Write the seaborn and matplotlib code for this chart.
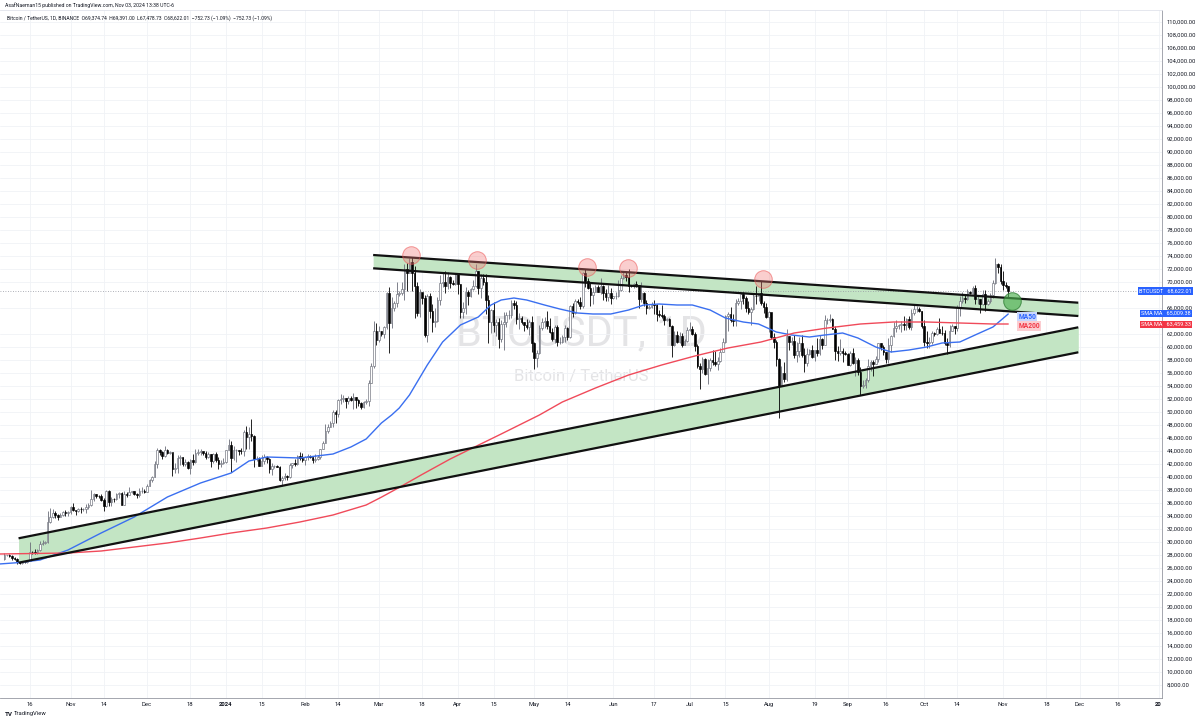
import numpy as np
import pandas as pd
import matplotlib.pyplot as plt
import matplotlib.dates as mdates
import matplotlib.transforms as mtransforms
import seaborn as sns

# ---- daily BTCUSDT candles, values in thousands of USD, from 2023-10-06 ----
start_day = '2023-10-06'
first_open = 27.42
close_k = [
    # Oct 2023 (6..31)
    27.93, 27.95, 27.92, 27.59, 27.39, 26.87, 26.76, 26.86, 26.85, 27.15, 28.52, 28.42, 28.33,
    28.72, 29.67, 29.91, 29.99, 33.09, 33.90, 34.50, 34.16, 33.91, 34.09, 34.54, 34.50, 34.64,
    # Nov 2023
    35.42, 34.94, 34.73, 35.08, 35.03, 35.04, 35.42, 35.62, 36.69, 37.31, 37.13, 37.06, 36.49, 35.55, 37.88,
    36.16, 36.59, 36.58, 37.38, 37.47, 35.76, 37.42, 37.29, 37.72, 37.80, 37.46, 37.25, 37.83, 37.86, 37.71,
    # Dec 2023
    38.69, 39.47, 39.98, 41.99, 44.08, 43.77, 43.29, 44.17, 43.72, 43.79, 41.24, 41.45, 42.89, 43.02, 41.94, 42.26,
    41.37, 42.66, 42.27, 43.65, 43.86, 43.99, 43.73, 43.01, 43.58, 42.51, 43.47, 42.58, 42.07, 42.14, 42.28,
    # Jan 2024
    44.18, 44.95, 42.85, 44.15, 44.16, 43.97, 43.93, 46.97, 46.11, 46.63, 46.34, 42.78, 42.84, 41.73, 42.50, 43.15,
    42.74, 41.26, 41.62, 41.66, 41.58, 39.56, 39.89, 40.08, 39.93, 41.82, 42.12, 42.03, 43.30, 42.95, 42.58,
    # Feb 2024
    43.08, 43.19, 43.00, 42.58, 42.70, 43.09, 44.34, 45.30, 47.13, 47.75, 48.29, 49.96, 49.70, 51.82, 51.94,
    52.14, 51.65, 52.14, 51.78, 52.28, 51.85, 51.32, 50.74, 51.57, 51.73, 54.48, 57.04, 62.43, 61.13,
    # Mar 2024
    62.39, 62.03, 63.13, 68.25, 63.72, 66.07, 66.80, 68.12, 68.31, 68.96, 72.07, 71.45, 73.07, 71.39, 69.40, 65.30,
    68.39, 67.55, 61.91, 67.91, 65.49, 63.78, 64.04, 67.21, 69.92, 69.99, 69.43, 70.74, 69.87, 69.62, 71.28,
    # Apr 2024
    69.65, 65.46, 65.96, 68.49, 67.82, 68.90, 69.36, 71.62, 69.14, 70.59, 70.06, 67.19, 63.92, 65.74, 63.42,
    63.79, 61.28, 63.47, 63.82, 64.94, 64.94, 66.84, 66.41, 64.28, 64.50, 63.77, 63.46, 63.12, 63.84, 60.64,
    # May 2024
    58.25, 59.12, 62.89, 63.89, 64.03, 63.16, 62.33, 61.19, 63.05, 60.79, 60.82, 61.48, 62.94, 61.58, 66.27, 65.23,
    67.05, 66.94, 66.28, 71.45, 70.14, 69.12, 67.93, 68.53, 69.29, 68.51, 69.39, 68.37, 67.64, 68.36, 67.53,
    # Jun 2024
    67.77, 67.82, 68.80, 70.57, 71.08, 70.79, 69.36, 69.31, 69.65, 69.51, 67.32, 68.24, 66.75, 66.01, 66.19,
    66.64, 66.49, 65.15, 64.96, 64.83, 64.10, 64.25, 63.18, 60.28, 61.81, 60.84, 61.68, 60.32, 60.89, 62.68,
    # Jul 2024
    62.77, 62.02, 60.21, 57.05, 56.64, 58.23, 55.85, 56.70, 58.05, 57.72, 57.34, 57.90, 59.20, 60.79, 64.72, 65.04,
    64.09, 63.97, 66.71, 67.15, 68.17, 67.55, 65.93, 65.37, 65.78, 67.90, 67.81, 68.24, 66.78, 66.19, 64.62,
    # Aug 2024
    65.35, 61.50, 60.70, 58.16, 54.02, 56.03, 55.13, 61.69, 60.84, 60.92, 58.71, 59.35, 60.60, 58.74, 57.56, 58.87,
    59.49, 58.43, 59.49, 59.01, 61.16, 60.38, 64.10, 64.18, 64.25, 62.83, 59.42, 59.03, 59.37, 59.12, 58.97,
    # Sep 2024
    57.30, 59.13, 57.49, 57.97, 56.16, 53.95, 54.16, 54.88, 57.02, 57.65, 57.34, 58.13, 60.57, 60.01, 59.18,
    58.21, 60.31, 61.76, 62.95, 63.20, 63.35, 63.58, 63.34, 64.26, 63.15, 65.18, 65.79, 65.89, 65.60, 63.30,
    # Oct 2024
    60.80, 60.65, 60.75, 62.08, 62.06, 62.82, 62.22, 62.13, 60.58, 60.27, 62.44, 63.19, 62.85, 66.08, 67.04, 67.61,
    67.40, 68.40, 68.36, 69.00, 67.37, 67.39, 66.65, 68.16, 66.64, 67.04, 67.94, 69.91, 72.72, 72.34, 70.22,
    # Nov 2024 (1..3)
    69.48, 69.37, 68.62,
]
high_k = [
    28.29, 28.05, 28.11, 27.99, 27.73, 27.48, 26.94, 27.11, 26.97, 27.29, 30.00, 28.61, 28.98,
    28.93, 30.21, 30.34, 30.20, 34.74, 35.20, 35.00, 34.84, 34.24, 34.48, 34.75, 34.86, 34.72,
    35.58, 35.98, 34.94, 35.26, 35.38, 35.27, 35.89, 35.98, 37.97, 37.53, 37.41, 37.23, 37.41, 36.75, 37.98,
    37.93, 36.85, 36.80, 37.52, 37.76, 37.65, 37.89, 37.66, 38.43, 37.90, 37.82, 37.59, 38.38, 38.43, 38.15,
    38.99, 39.69, 40.19, 42.41, 44.49, 44.30, 44.05, 44.70, 44.37, 44.03, 43.75, 42.10, 43.43, 43.41, 43.09, 42.70,
    42.43, 42.76, 43.49, 44.28, 44.24, 44.37, 43.81, 43.95, 43.80, 43.60, 43.68, 43.79, 43.12, 42.61, 42.90,
    44.19, 45.90, 45.50, 44.73, 44.34, 44.23, 44.50, 47.25, 47.89, 47.70, 48.97, 46.50, 43.26, 43.08, 43.40, 43.58,
    43.20, 42.93, 42.20, 41.87, 41.88, 41.70, 40.13, 40.56, 40.28, 42.20, 42.20, 42.84, 43.32, 43.88, 43.74,
    43.28, 43.49, 43.38, 43.12, 43.53, 43.40, 44.37, 45.60, 48.20, 48.17, 48.58, 50.33, 50.37, 52.04, 52.82,
    52.57, 52.15, 52.43, 52.49, 52.99, 52.37, 52.07, 51.56, 51.70, 51.95, 54.91, 57.59, 63.97, 63.68,
    63.19, 62.43, 63.23, 68.50, 69.20, 67.63, 67.00, 69.99, 68.59, 69.99, 72.80, 72.97, 73.65, 73.78, 72.42, 70.00,
    68.92, 68.13, 68.06, 68.14, 68.24, 66.65, 65.97, 67.62, 71.15, 71.56, 71.73, 71.55, 70.91, 70.33, 71.37,
    71.29, 69.67, 66.91, 69.29, 68.71, 69.00, 70.28, 72.80, 71.76, 71.17, 71.26, 71.23, 67.93, 65.84, 66.87,
    64.36, 64.48, 64.12, 65.45, 65.39, 65.70, 67.23, 67.21, 67.08, 65.30, 64.79, 63.92, 64.36, 64.23, 64.73,
    60.78, 59.60, 63.32, 64.49, 64.65, 65.49, 64.41, 62.99, 63.46, 63.46, 61.48, 61.82, 63.45, 63.10, 66.44, 66.70,
    67.45, 67.40, 67.70, 71.52, 71.98, 70.62, 70.04, 69.22, 69.57, 69.52, 70.61, 69.59, 68.89, 69.51, 69.04,
    67.86, 68.44, 70.29, 71.06, 71.76, 71.63, 72.00, 69.56, 69.85, 70.15, 69.57, 69.99, 68.45, 67.29, 66.42,
    66.99, 67.19, 66.58, 65.73, 66.47, 65.07, 64.53, 64.52, 63.37, 62.42, 62.48, 62.37, 62.17, 61.20, 63.00,
    63.78, 63.28, 62.27, 60.48, 57.50, 58.48, 58.24, 58.13, 58.29, 59.47, 59.40, 58.51, 59.82, 61.42, 64.90, 65.38,
    66.13, 65.12, 67.39, 67.61, 68.37, 68.48, 67.81, 67.10, 66.16, 68.20, 69.40, 68.31, 70.08, 67.00, 66.84,
    65.59, 65.03, 62.20, 61.12, 58.30, 57.04, 57.72, 62.75, 61.74, 61.47, 61.86, 60.72, 61.58, 61.80, 59.85, 59.81,
    59.64, 60.26, 59.60, 61.40, 61.82, 61.42, 64.96, 64.52, 65.00, 64.48, 63.21, 60.23, 61.18, 59.85, 59.46,
    59.06, 59.40, 59.81, 58.52, 58.32, 56.99, 54.85, 55.30, 58.09, 58.04, 57.99, 58.60, 60.67, 60.65, 60.38,
    59.21, 61.32, 61.79, 63.87, 64.13, 63.56, 64.00, 64.75, 64.48, 64.82, 65.84, 66.50, 66.26, 66.08, 65.55,
    64.13, 62.39, 61.47, 62.48, 62.37, 63.00, 64.48, 63.20, 62.54, 61.32, 63.42, 63.48, 63.28, 66.50, 67.88, 68.42,
    67.94, 68.97, 68.69, 69.40, 69.50, 67.84, 67.45, 68.80, 68.78, 67.42, 68.35, 70.27, 73.62, 72.96, 72.70,
    71.63, 69.94, 69.39,
]
low_k = [
    27.16, 27.84, 27.72, 27.28, 27.30, 26.56, 26.54, 26.69, 26.81, 26.81, 27.11, 28.11, 28.14,
    28.17, 28.59, 29.49, 29.70, 29.88, 32.85, 33.70, 33.75, 33.39, 33.83, 34.05, 34.06, 34.05,
    34.32, 34.70, 34.10, 34.58, 34.52, 34.75, 34.51, 35.11, 35.53, 36.33, 36.73, 36.72, 36.33, 34.80, 35.36,
    35.60, 35.51, 36.16, 36.40, 36.70, 35.63, 35.67, 36.88, 37.25, 37.61, 37.16, 36.75, 36.87, 37.58, 37.50,
    37.62, 38.65, 39.29, 39.96, 41.42, 43.33, 42.82, 43.08, 43.58, 43.56, 40.22, 40.68, 40.56, 41.82, 41.67, 41.69,
    41.25, 40.52, 41.79, 42.18, 43.40, 43.41, 43.31, 42.76, 42.90, 41.52, 42.10, 42.31, 41.30, 41.52, 41.97,
    42.19, 44.15, 40.75, 42.63, 42.26, 43.41, 43.60, 43.18, 44.30, 44.35, 45.60, 41.50, 42.44, 41.72, 41.72, 42.05,
    42.20, 40.68, 40.28, 41.45, 41.50, 39.45, 38.56, 39.48, 39.54, 39.83, 41.39, 41.62, 41.80, 42.69, 42.28,
    41.88, 42.57, 42.88, 42.22, 42.26, 42.57, 42.79, 44.33, 45.24, 46.80, 47.70, 47.70, 48.30, 49.25, 51.30,
    51.57, 50.63, 51.23, 51.68, 50.52, 50.63, 50.94, 50.52, 50.58, 51.28, 50.90, 54.45, 56.70, 60.36,
    60.75, 61.71, 61.32, 62.80, 59.01, 62.85, 65.57, 66.15, 67.90, 68.04, 67.19, 68.60, 71.33, 68.56, 64.50, 64.78,
    64.57, 66.60, 61.56, 60.78, 64.53, 62.26, 63.04, 63.79, 66.39, 69.28, 68.38, 68.94, 69.08, 69.51, 69.56,
    68.10, 64.50, 64.49, 65.05, 66.50, 67.75, 68.77, 69.25, 68.21, 67.52, 69.57, 65.09, 60.66, 62.13, 62.30,
    61.62, 59.77, 60.82, 59.60, 63.09, 64.24, 64.50, 65.84, 63.60, 62.79, 63.49, 62.41, 62.80, 61.79, 59.19,
    56.55, 56.94, 58.85, 62.59, 62.88, 62.70, 62.18, 60.89, 60.65, 60.19, 60.49, 60.63, 60.76, 61.12, 61.33, 64.60,
    65.11, 66.60, 65.86, 66.06, 69.16, 68.93, 66.31, 66.62, 68.50, 68.48, 68.23, 67.28, 67.14, 67.14, 66.67,
    67.38, 67.31, 67.62, 68.55, 70.39, 70.12, 68.50, 69.21, 69.14, 69.23, 66.05, 66.90, 66.30, 65.08, 65.89,
    66.06, 65.10, 64.06, 64.69, 64.51, 63.38, 63.94, 63.18, 58.40, 60.23, 60.62, 60.61, 60.05, 60.32, 60.71,
    62.50, 61.85, 59.38, 56.77, 53.49, 56.02, 55.72, 54.26, 56.30, 57.16, 57.05, 56.52, 57.74, 59.21, 60.63, 62.43,
    63.85, 63.24, 63.30, 66.44, 65.78, 66.57, 65.44, 65.10, 63.45, 65.75, 66.68, 67.06, 66.50, 65.30, 64.53,
    62.25, 61.20, 59.85, 57.12, 49.00, 53.97, 54.56, 54.73, 59.57, 60.27, 58.29, 57.63, 58.44, 58.43, 56.08, 57.12,
    58.79, 58.38, 57.86, 58.59, 58.78, 59.72, 60.34, 63.57, 63.80, 62.80, 58.03, 57.86, 58.75, 57.70, 58.73,
    57.20, 57.12, 57.41, 55.61, 55.67, 52.55, 53.74, 53.65, 54.59, 56.38, 55.55, 57.33, 57.63, 59.56, 58.70,
    57.49, 57.61, 59.17, 61.58, 62.35, 62.76, 62.36, 62.59, 62.68, 62.70, 62.67, 64.85, 65.42, 65.42, 62.85,
    60.16, 59.83, 59.83, 60.46, 61.68, 61.82, 62.12, 61.82, 60.30, 58.90, 60.05, 62.41, 62.04, 62.42, 64.81, 66.75,
    66.70, 67.18, 68.10, 68.11, 66.57, 66.58, 65.26, 66.50, 65.53, 66.53, 66.81, 67.50, 69.73, 71.44, 69.68,
    68.78, 69.05, 67.48,
]

# ---- moving averages ----
ma50_dates = ['2023-10-04', '2023-10-11', '2023-10-20', '2023-10-31', '2023-11-13', '2023-11-26',
              '2023-12-09', '2023-12-22', '2024-01-03', '2024-01-10', '2024-01-17', '2024-01-30',
              '2024-02-12', '2024-02-19', '2024-02-25', '2024-03-02', '2024-03-06', '2024-03-09',
              '2024-03-13', '2024-03-20', '2024-03-26', '2024-04-02', '2024-04-09', '2024-04-14',
              '2024-04-18', '2024-04-23', '2024-04-28', '2024-05-05', '2024-05-11', '2024-05-18',
              '2024-05-24', '2024-05-31', '2024-06-07', '2024-06-13', '2024-06-19', '2024-06-26',
              '2024-07-02', '2024-07-09', '2024-07-15', '2024-07-22', '2024-07-28', '2024-08-04',
              '2024-08-10', '2024-08-17', '2024-08-23', '2024-08-30', '2024-09-05', '2024-09-12',
              '2024-09-18', '2024-09-25', '2024-10-02', '2024-10-08', '2024-10-15', '2024-10-21',
              '2024-10-28', '2024-11-03']
ma50 = [26615, 26815, 27230, 28770, 31385, 33846, 36923, 39077, 40615, 42460, 43077, 42923,
        43538, 44615, 45846, 48308, 49538, 50615, 52615, 57230, 60770, 63385, 64615, 66462,
        67230, 67538, 67230, 66462, 65846, 65230, 65077, 65077, 65692, 66462, 66615, 66462,
        66462, 65692, 64462, 63846, 63538, 62308, 61846, 61538, 61846, 62154, 61385, 60000,
        59230, 59538, 60000, 60615, 60770, 61846, 63077, 65077]
ma200_dates = ['2023-10-04', '2023-10-31', '2023-11-13', '2023-11-26', '2023-12-09', '2023-12-22',
               '2024-01-03', '2024-01-17', '2024-01-30', '2024-02-12', '2024-02-25', '2024-03-02',
               '2024-03-09', '2024-03-18', '2024-03-29', '2024-04-08', '2024-04-18', '2024-05-03',
               '2024-05-12', '2024-05-25', '2024-06-07', '2024-06-20', '2024-07-03', '2024-07-16',
               '2024-07-29', '2024-08-11', '2024-08-24', '2024-09-06', '2024-09-19', '2024-10-02',
               '2024-10-15', '2024-10-28', '2024-11-03']
ma200 = [28154, 28308, 28615, 29230, 29846, 30615, 31385, 32154, 33077, 34154, 35692, 36900,
         38400, 40400, 42770, 44700, 46615, 49538, 51538, 53692, 55692, 57230, 58615, 59846,
         60770, 62154, 62923, 63538, 63846, 63846, 63692, 63538, 63538]

# ---- drawings: channels (start, end) and marked touches ----
upper_ch_dates = ['2024-02-27 18:00', '2024-11-30 12:00']
upper_ch_top = [74154, 66815]
upper_ch_bot = [72108, 64769]
lower_ch_dates = ['2023-10-11 14:00', '2024-11-30 12:00']
lower_ch_top = [30569, 63031]
lower_ch_bot = [26815, 59185]
touch_dates = ['2024-03-13 14:00', '2024-04-08 12:00', '2024-05-21 17:00', '2024-06-06 19:00', '2024-07-29 18:00']
touch_prices = [74154, 73385, 72308, 72154, 70462]
retest_date = ['2024-11-04 12:00']
retest_price = [67077]

last_price = 68622.01
sma50_last = 65009.38
sma200_last = 63459.33

tick_dates = ['2023-10-16', '2023-11-01', '2023-11-14', '2023-12-01', '2023-12-18', '2024-01-01',
              '2024-01-15', '2024-02-01', '2024-02-14', '2024-03-01', '2024-03-18', '2024-04-01',
              '2024-04-15', '2024-05-01', '2024-05-14', '2024-06-01', '2024-06-17', '2024-07-01',
              '2024-07-15', '2024-08-01', '2024-08-19', '2024-09-01', '2024-09-16', '2024-10-01',
              '2024-10-14', '2024-11-01', '2024-11-18', '2024-12-01', '2024-12-16', '2025-01-01']
tick_labels = ['16', 'Nov', '14', 'Dec', '18', '2024', '15', 'Feb', '14', 'Mar', '18', 'Apr', '15',
               'May', '14', 'Jun', '17', 'Jul', '15', 'Aug', '19', 'Sep', '16', 'Oct', '14', 'Nov',
               '18', 'Dec', '16', '20']

# ---- build candle table ----
df = pd.DataFrame({'close': np.array(close_k) * 1000,
                   'high': np.array(high_k) * 1000,
                   'low': np.array(low_k) * 1000})
df['open'] = np.r_[first_open, close_k[:-1]] * 1000
df['date'] = pd.date_range(start_day, periods=len(df), freq='D')
x = mdates.date2num(df['date'])
up = (df['close'] >= df['open']).values

sns.set_theme(style='white')
plt.rcParams['font.family'] = ['Roboto', 'DejaVu Sans']

fig = plt.figure(figsize=(12, 7.22), dpi=100)
ax = fig.add_axes([0, 24 / 722, 1162 / 1200, 688 / 722])

def dnum(d):
    return mdates.date2num(pd.to_datetime(d))

# channels
ax.fill_between(dnum(upper_ch_dates), upper_ch_bot, upper_ch_top, color='#c3e5c4', lw=0, zorder=1)
ax.fill_between(dnum(lower_ch_dates), lower_ch_bot, lower_ch_top, color='#c3e5c4', lw=0, zorder=1)
for xs, ys in [(upper_ch_dates, upper_ch_top), (upper_ch_dates, upper_ch_bot),
               (lower_ch_dates, lower_ch_top), (lower_ch_dates, lower_ch_bot)]:
    ax.plot(dnum(xs), ys, color='#111111', lw=1.6, zorder=6, solid_capstyle='butt')

# candles
wick_up, wick_dn = '#6a6d78', '#000000'
ax.vlines(x[up], df['low'][up], df['high'][up], color=wick_up, lw=0.6, zorder=3)
ax.vlines(x[~up], df['low'][~up], df['high'][~up], color=wick_dn, lw=0.6, zorder=3)
ax.bar(x[up], (df['close'] - df['open'])[up], bottom=df['open'][up], width=0.64,
       color='white', edgecolor=wick_up, lw=0.45, zorder=4)
ax.bar(x[~up], (df['close'] - df['open'])[~up], bottom=df['open'][~up], width=0.64,
       color='black', edgecolor='black', lw=0.45, zorder=4)

# moving averages
sns.lineplot(x=dnum(ma50_dates), y=ma50, ax=ax, color='#3a6ff0', lw=1.0, zorder=5)
sns.lineplot(x=dnum(ma200_dates), y=ma200, ax=ax, color='#f04a5a', lw=1.0, zorder=5)

# marked touches
ax.scatter(dnum(touch_dates), touch_prices, s=160, facecolor=(0.95, 0.45, 0.45, 0.35),
           edgecolor=(0.93, 0.35, 0.35, 0.6), lw=0.7, zorder=7)
ax.scatter(dnum(retest_date), retest_price, s=160, facecolor=(0.30, 0.69, 0.31, 0.65),
           edgecolor=(0.18, 0.49, 0.20, 0.8), lw=0.7, zorder=7)

# last price line
ax.axhline(last_price, color='#9598a1', ls=(0, (1, 2)), lw=0.6, zorder=2)

# watermark
ax.text(0.5, 0.529, 'BTCUSDT, 1D', transform=ax.transAxes, ha='center', va='center',
        fontsize=30, color='#e4e4e6', zorder=0)
ax.text(0.5, 0.467, 'Bitcoin / TetherUS', transform=ax.transAxes, ha='center', va='center',
        fontsize=12, color='#e4e4e6', zorder=0)

# MA labels on chart
ax.text(dnum('2024-11-07'), 64692, 'MA50', fontsize=4.8, color='#2962ff', va='center', ha='left',
        fontweight='bold', zorder=8,
        bbox=dict(boxstyle='square,pad=0.15', fc='#c9d7fc', ec='none'))
ax.text(dnum('2024-11-07'), 63154, 'MA200', fontsize=4.8, color='#f23645', va='center', ha='left',
        fontweight='bold', zorder=8,
        bbox=dict(boxstyle='square,pad=0.15', fc='#fbcdd1', ec='none'))

# axes limits and ticks
ax.set_xlim(dnum('2024-01-01') - 226 / 2.548, dnum('2024-01-01') + 936 / 2.548)
ax.set_ylim(6000, 111846)
yt = [v for v in range(8000, 110001, 2000) if v not in (68000, 64000)]
ax.yaxis.tick_right()
ax.set_yticks(yt)
ax.set_yticklabels([f'{v:,.2f}' for v in yt], fontsize=4.2, color='#131722')
ax.set_xticks(dnum(tick_dates))
ax.set_xticklabels(tick_labels, fontsize=4.2, color='#131722')
for lab in ax.get_xticklabels():
    if lab.get_text() in ('2024', '20'):
        lab.set_fontweight('bold')
ax.tick_params(axis='y', length=0, pad=3.5)
ax.tick_params(axis='x', length=0, pad=2.8)
ax.set_xlabel('')
ax.set_ylabel('')
ax.grid(True, color='#f0f2f6', lw=0.6, zorder=0)
ax.set_axisbelow(True)
ax.spines['left'].set_visible(False)
ax.spines['top'].set_color('#e0e3eb')
ax.spines['right'].set_color('#9598a1')
ax.spines['bottom'].set_color('#9598a1')
for s in ['top', 'right', 'bottom']:
    ax.spines[s].set_linewidth(0.6)

# price-scale labels
tr = mtransforms.blended_transform_factory(fig.transFigure, ax.transData)
fig.text(1139 / 1200, last_price, 'BTCUSDT   ' + f'{last_price:,.2f}', transform=tr, fontsize=4,
         color='white', va='center', ha='left',
         bbox=dict(boxstyle='square,pad=0.25', fc='#2962ff', ec='none'))
fig.text(1141 / 1200, 65150, 'SMA MA   ' + f'{sma50_last:,.2f}', transform=tr, fontsize=4,
         color='white', va='center', ha='left',
         bbox=dict(boxstyle='square,pad=0.25', fc='#2962ff', ec='none'))
fig.text(1141 / 1200, sma200_last, 'SMA MA   ' + f'{sma200_last:,.2f}', transform=tr, fontsize=4,
         color='white', va='center', ha='left',
         bbox=dict(boxstyle='square,pad=0.25', fc='#f23645', ec='none'))

# header and footer
fig.text(5 / 1200, 1 - 5 / 722, 'AsafNaeman15 published on TradingView.com, Nov 03, 2024 13:38 UTC-6',
         fontsize=3.7, color='#131722', va='center', ha='left')
fig.text(7 / 1200, 1 - 18 / 722,
         'Bitcoin / TetherUS, 1D, BINANCE  O69,374.74  H69,391.00  L67,478.73  C68,622.01  '
         '\u2212752.73 (\u22121.09%)  \u2212752.73 (\u22121.09%)',
         fontsize=3.6, color='#131722', va='center', ha='left')
fig.text(5 / 1200, 1 - 714 / 722, 'TV', fontsize=4.5, fontweight='bold', color='#131722',
         va='center', ha='left')
fig.text(14 / 1200, 1 - 714 / 722, 'TradingView', fontsize=4.2, color='#131722',
         va='center', ha='left')

fig.savefig('out.png', dpi=100)
